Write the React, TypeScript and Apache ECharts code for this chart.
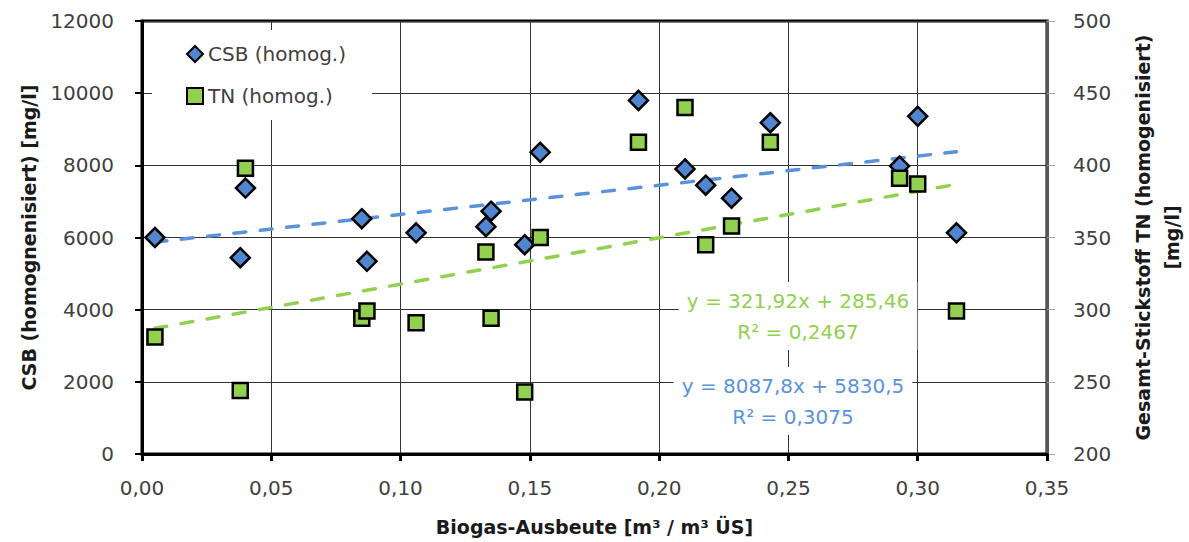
import React, { useEffect, useRef } from "react";
import * as echarts from "echarts";

const xValues = [0.005, 0.038, 0.040, 0.085, 0.087, 0.106, 0.133, 0.135, 0.148, 0.154, 0.192, 0.210, 0.218, 0.228, 0.243, 0.293, 0.300, 0.315];
const csbValues = [6000, 5440, 7370, 6520, 5340, 6130, 6300, 6730, 5800, 8360, 9800, 7900, 7450, 7090, 9180, 7980, 9360, 6130];
const tnValues = [281, 244, 398, 294, 299, 291, 340, 294, 243, 350, 416, 440, 345, 358, 416, 391, 387, 299];
const csbTrend = { slope: 8087.8, intercept: 5830.5 };
const tnTrend = { slope: 321.92, intercept: 285.46 };
const csbTrendLabel = "y = 8087,8x + 5830,5\nR² = 0,3075";
const tnTrendLabel = "y = 321,92x + 285,46\nR² = 0,2467";
const xTitle = "Biogas-Ausbeute [m³ / m³ ÜS]";
const yLeftTitle = "CSB (homognenisiert) [mg/l]";
const yRightTitle = "Gesamt-Stickstoff TN (homogenisiert)\n[mg/l]";

const FONT = "DejaVu Sans";
const BLUE_FILL = "#4f86cf";
const BLUE_LINE = "#5a92dc";
const GREEN = "#92d050";

export default function App() {
  const ref = useRef<HTMLDivElement>(null);
  useEffect(() => {
    if (!ref.current) return;
    document.body.style.margin = "0";
    document.documentElement.style.overflow = "hidden";
    document.body.style.overflow = "hidden";
    const chart = echarts.init(ref.current, undefined, { renderer: "svg", width: 1189, height: 542 });
    const xMin = Math.min(...xValues);
    const xMax = Math.max(...xValues);
    const trend = (t: { slope: number; intercept: number }) => [
      [xMin, t.intercept + t.slope * xMin],
      [xMax, t.intercept + t.slope * xMax],
    ];
    const fmtX = (v: number) => v.toFixed(2).replace(".", ",");
    chart.setOption({
      animation: false,
      backgroundColor: "#fff",
      textStyle: { fontFamily: FONT },
      grid: {
        left: 142,
        right: 142,
        top: 21,
        bottom: 88,
        outerBoundsMode: "none",
        containLabel: false,
        show: true,
        borderColor: "#000",
        borderWidth: 3,
      },
      legend: {
        orient: "vertical",
        left: 152,
        top: 30,
        padding: [14, 26, 14, 34],
        itemGap: 22,
        itemWidth: 16,
        itemHeight: 16,
        backgroundColor: "#fff",
        textStyle: { fontFamily: FONT, fontSize: 20, color: "#404040" },
        data: ["CSB (homog.)", "TN (homog.)"],
      },
      xAxis: {
        type: "value",
        min: 0,
        max: 0.35,
        interval: 0.05,
        name: xTitle,
        nameLocation: "middle",
        nameGap: 63,
        nameTextStyle: { fontFamily: FONT, fontSize: 19, fontWeight: "bold", color: "#1a1a1a" },
        axisLine: { show: true, onZero: false, lineStyle: { color: "#000", width: 3 } },
        axisTick: { show: true, length: 7, lineStyle: { color: "#000", width: 3 } },
        axisLabel: { formatter: fmtX, fontFamily: FONT, fontSize: 20, color: "#404040", margin: 24 },
        splitLine: { show: true, lineStyle: { color: "#333", width: 1 } },
      },
      yAxis: [
        {
          type: "value",
          min: 0,
          max: 12000,
          interval: 2000,
          position: "left",
          name: yLeftTitle,
          nameLocation: "middle",
          nameRotate: 90,
          nameGap: 104,
          nameTextStyle: { fontFamily: FONT, fontSize: 19, fontWeight: "bold", color: "#1a1a1a" },
          axisLine: { show: true, lineStyle: { color: "#000", width: 3 } },
          axisTick: { show: true, length: 7, lineStyle: { color: "#000", width: 2 } },
          axisLabel: { formatter: (v: number) => String(v), fontFamily: FONT, fontSize: 20, color: "#404040", margin: 28 },
          splitLine: { show: true, lineStyle: { color: "#333", width: 1 } },
        },
        {
          type: "value",
          min: 200,
          max: 500,
          interval: 50,
          position: "right",
          name: yRightTitle,
          nameLocation: "middle",
          nameRotate: 90,
          nameGap: 81,
          nameTextStyle: { fontFamily: FONT, fontSize: 19, fontWeight: "bold", color: "#1a1a1a", lineHeight: 29, align: "center" },
          axisLine: { show: true, lineStyle: { color: "#555", width: 3 } },
          axisTick: { show: true, length: 8, lineStyle: { color: "#aaa", width: 1 } },
          axisLabel: { formatter: (v: number) => String(v), fontFamily: FONT, fontSize: 20, color: "#404040", margin: 26 },
          splitLine: { show: false },
        },
      ],
      series: [
        {
          name: "CSB trend",
          type: "line",
          yAxisIndex: 0,
          data: trend(csbTrend),
          symbol: "none",
          silent: true,
          z: 1,
          lineStyle: { color: BLUE_LINE, width: 3.5, type: [12, 14.5], cap: "round" },
        },
        {
          name: "TN trend",
          type: "line",
          yAxisIndex: 1,
          data: trend(tnTrend),
          symbol: "none",
          silent: true,
          z: 1,
          lineStyle: { color: GREEN, width: 3.5, type: [12, 14.5], cap: "round" },
        },
        {
          name: "CSB (homog.)",
          type: "scatter",
          yAxisIndex: 0,
          symbol: "diamond",
          symbolSize: 19,
          z: 3,
          data: xValues.map((x, i) => [x, csbValues[i]]),
          itemStyle: { color: BLUE_FILL, borderColor: "#000", borderWidth: 2.5, opacity: 1 },
        },
        {
          name: "TN (homog.)",
          type: "scatter",
          yAxisIndex: 1,
          symbol: "rect",
          symbolSize: 15,
          z: 3,
          data: xValues.map((x, i) => [x, tnValues[i]]),
          itemStyle: { color: GREEN, borderColor: "#000", borderWidth: 2.5, opacity: 1 },
        },
      ],
      graphic: [
        {
          type: "text",
          z: 100,
          x: 798,
          y: 316,
          style: {
            text: tnTrendLabel,
            fill: GREEN,
            font: `20px "${FONT}"`,
            lineHeight: 31,
            textAlign: "center",
            textVerticalAlign: "middle",
            backgroundColor: "#fff",
            padding: [3, 8],
          },
        },
        {
          type: "text",
          z: 100,
          x: 793,
          y: 401,
          style: {
            text: csbTrendLabel,
            fill: BLUE_LINE,
            font: `20px "${FONT}"`,
            lineHeight: 31,
            textAlign: "center",
            textVerticalAlign: "middle",
            backgroundColor: "#fff",
            padding: [3, 8],
          },
        },
      ],
    });
    return () => chart.dispose();
  }, []);
  return <div ref={ref} style={{ width: 1189, height: 542, position: "fixed", left: 0, top: 0 }} />;
}
